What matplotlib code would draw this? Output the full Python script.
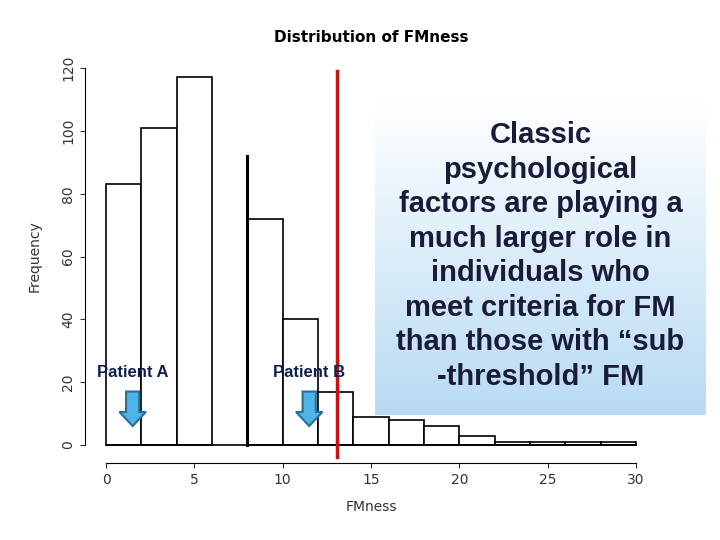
import numpy as np
import matplotlib
matplotlib.use("Agg")
import matplotlib.pyplot as plt
from matplotlib.patches import FancyArrow

bin_edges = [0,2,4,6,8,10,12,14,16,18,20,22,24,26,28,30]
counts = [83,101,117,0,72,40,17,9,8,6,3,1,1,1,1]
black_line_x, black_line_top = 8, 92
red_line_x = 13.1
patients = [("Patient A", 1.5), ("Patient B", 11.5)]
box_text = "Classic\npsychological\nfactors are playing a\nmuch larger role in\nindividuals who\nmeet criteria for FM\nthan those with \u201csub\n-threshold\u201d FM"

W, H = 720, 540
fig = plt.figure(figsize=(7.2, 5.4), dpi=100)
ax = fig.add_axes([85/W, 1-460/H, 572/W, (460-53)/H])
ax.set_xlim(-1.2, 31.2); ax.set_ylim(-4.8, 124.8)
lefts = bin_edges[:-1]
for l, c in zip(lefts, counts):
    if c > 0:
        ax.bar(l, c, width=2, align='edge', facecolor='white', edgecolor='black', linewidth=1.2)
ax.plot([bin_edges[0], bin_edges[-1]], [0, 0], color='black', lw=1.2)
ax.plot([black_line_x]*2, [0, black_line_top], color='black', lw=2.2)
ax.plot([red_line_x]*2, [-4, 119], color='#cc1111', lw=2.5, clip_on=False)
for s in ['top','right']:
    ax.spines[s].set_visible(False)
ax.spines['left'].set_bounds(0, 120)
ax.spines['bottom'].set_bounds(0, 30)
ax.spines['bottom'].set_position(('outward', 2))
ax.set_yticks(range(0, 121, 20))
ax.set_xticks(range(0, 31, 5))
ax.tick_params(labelsize=10, colors='#333333')
plt.setp(ax.get_yticklabels(), rotation=90, va='center')
ax.set_ylabel("Frequency", fontsize=10, color='#333333', labelpad=14)
ax.set_xlabel("FMness", fontsize=10, color='#333333', labelpad=10)
ax.set_title("Distribution of FMness", fontsize=11, fontweight='bold', pad=8)
for name, x in patients:
    ax.text(x, 23, name, ha='center', va='center', fontsize=12, fontweight='bold',
            color='#102050', family='Liberation Sans')
    ax.add_patch(FancyArrow(x, 17, 0, -11, width=0.75, head_width=1.5, head_length=4.5,
                            length_includes_head=True, facecolor='#4fb3e8', edgecolor='#2a6f9a', lw=1.5))

bax = fig.add_axes([375/W, 1-415/H, 331/W, 318/H])
grad = np.linspace(0, 1, 100)[:, None]
cols = np.zeros((100, 1, 3))
top = np.array([1.0, 1.0, 1.0]); bot = np.array([0.72, 0.86, 0.95])
for i in range(100):
    cols[i, 0] = top*(1-grad[i]) + bot*grad[i]
bax.imshow(cols, aspect='auto', extent=[0, 1, 0, 1])
bax.axis('off')
bax.text(0.5, 0.5, box_text, ha='center', va='center', fontsize=21, fontweight='bold',
         color='#1a1a3a', family='Liberation Sans', linespacing=1.3, transform=bax.transAxes)
fig.savefig("out.png", dpi=100)
